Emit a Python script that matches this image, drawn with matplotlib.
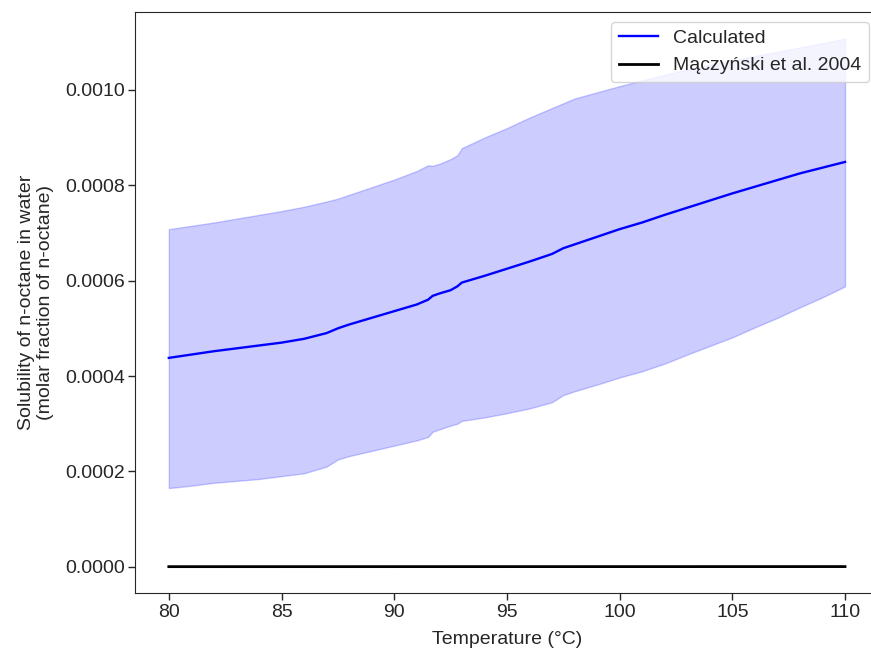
import matplotlib
matplotlib.use('Agg')
import matplotlib.pyplot as plt

# --------------------------
# Data
# --------------------------
temperature = [80, 81, 82, 83, 84, 85, 86, 87, 87.5, 88, 89, 90, 91, 91.5, 91.7, 92, 92.5, 92.8, 93,
               94, 95, 96, 97, 97.5, 98, 99, 100, 101, 102, 103, 104, 105, 106, 107, 108, 109, 110]
calculated = [0.000438, 0.000445, 0.000452, 0.000458, 0.000464, 0.000470, 0.000478, 0.000490, 0.000500,
              0.000508, 0.000522, 0.000536, 0.000550, 0.000560, 0.000568, 0.000573, 0.000580, 0.000588,
              0.000596, 0.000610, 0.000625, 0.000640, 0.000656, 0.000668, 0.000676, 0.000692, 0.000708,
              0.000722, 0.000738, 0.000753, 0.000768, 0.000783, 0.000797, 0.000811, 0.000825, 0.000837,
              0.000849]
upper = [0.000708, 0.000715, 0.000722, 0.000730, 0.000738, 0.000746, 0.000755, 0.000766, 0.000772,
         0.000780, 0.000796, 0.000812, 0.000830, 0.000842, 0.000841, 0.000845, 0.000855, 0.000863,
         0.000878, 0.000900, 0.000920, 0.000942, 0.000962, 0.000972, 0.000982, 0.000995, 0.001008,
         0.001020, 0.001032, 0.001043, 0.001053, 0.001062, 0.001071, 0.001080, 0.001089, 0.001098,
         0.001108]
lower = [0.000165, 0.000170, 0.000176, 0.000180, 0.000184, 0.000190, 0.000196, 0.000210, 0.000225,
         0.000232, 0.000243, 0.000254, 0.000265, 0.000272, 0.000283, 0.000288, 0.000296, 0.000300,
         0.000306, 0.000313, 0.000322, 0.000332, 0.000345, 0.000360, 0.000368, 0.000382, 0.000397,
         0.000410, 0.000426, 0.000445, 0.000463, 0.000481, 0.000502, 0.000522, 0.000544, 0.000565,
         0.000588]

# literature values (Mączyński et al. 2004), tiny on this scale
lit_temperature = [80, 85, 90, 95, 100, 105, 110]
lit_solubility = [1.5e-7, 1.7e-7, 1.9e-7, 2.1e-7, 2.3e-7, 2.6e-7, 2.9e-7]

plt.rcParams['font.family'] = ['Liberation Sans', 'DejaVu Sans']
plt.rcParams['font.size'] = 14
plt.rcParams['text.color'] = '0.15'
plt.rcParams['axes.labelcolor'] = '0.15'
plt.rcParams['xtick.color'] = '0.15'
plt.rcParams['ytick.color'] = '0.15'

fig = plt.figure(figsize=(8.71, 6.51), dpi=100)
# axes run past the right edge, as in the reference crop
ax = fig.add_axes([0.155, 0.089, 0.854, 0.8925])

ax.plot(temperature, calculated, color='blue', lw=1.7, label='Calculated')
ax.fill_between(temperature, lower, upper, color='blue', alpha=0.2)
ax.plot(lit_temperature, lit_solubility, color='black', lw=2, label='Mączyński et al. 2004')

ax.set_xlabel('Temperature (°C)', labelpad=7)
ax.set_ylabel('Solubility of n-octane in water\n(molar fraction of n-octane)', labelpad=8)
ax.set_xticks([80, 85, 90, 95, 100, 105, 110])
ax.set_yticks([0, 0.0002, 0.0004, 0.0006, 0.0008, 0.0010])
ax.set_yticklabels(['0.0000', '0.0002', '0.0004', '0.0006', '0.0008', '0.0010'])
ax.tick_params(axis='x', direction='out', length=5, width=1, pad=3)
ax.tick_params(axis='y', direction='out', length=5, width=1, pad=2)
for s in ax.spines.values():
    s.set_color('0.15')
ax.spines['right'].set_visible(False)

ax.legend(loc='upper right')

plt.savefig('out.png', dpi=100)
